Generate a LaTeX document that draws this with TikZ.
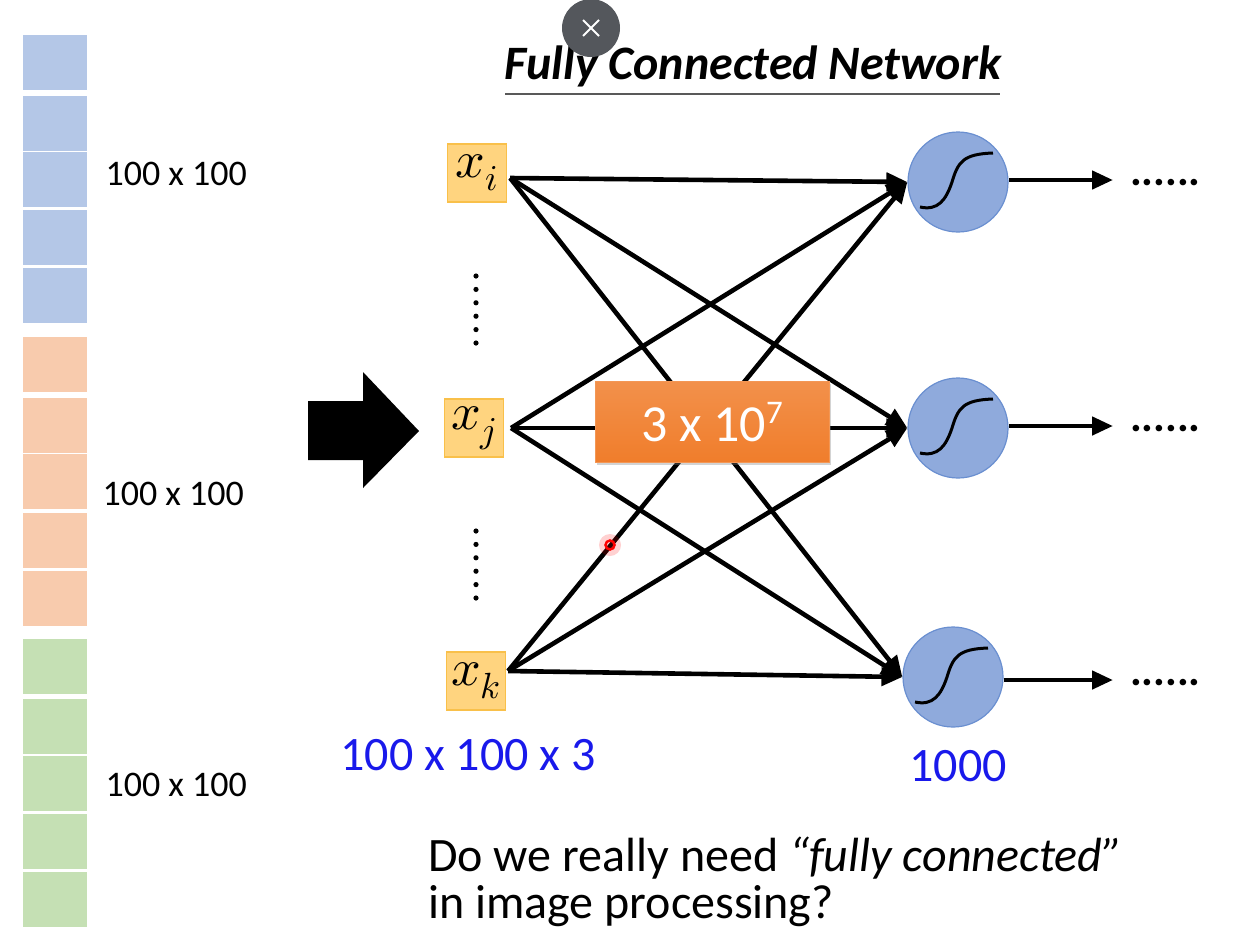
\documentclass[tikz,border=0pt]{standalone}
\usepackage{fontspec}
\usepackage{unicode-math}
\setmainfont{Carlito}
\setmathfont{Latin Modern Math}
\usetikzlibrary{positioning,arrows.meta,calc,shadows}

\definecolor{pixblue}{HTML}{B4C7E7}
\definecolor{pixorange}{HTML}{F8CBAD}
\definecolor{pixgreen}{HTML}{C5E0B4}
\definecolor{infill}{HTML}{FFD47F}
\definecolor{inedge}{HTML}{F9C04A}
\definecolor{nfill}{HTML}{8FAADC}
\definecolor{nedge}{HTML}{6A8FD0}
\definecolor{cntorange}{HTML}{F07D2B}
\definecolor{numblue}{RGB}{25,25,235}
\definecolor{btngray}{HTML}{54575C}

\begin{document}
\begin{tikzpicture}[x=1pt, y=-1pt,
  inbox/.style={draw=inedge, fill=infill, line width=1.2pt, minimum width=59pt, minimum height=58pt, inner sep=0pt, font=\fontsize{52}{52}\selectfont},
  neuron/.style={circle, draw=nedge, fill=nfill, line width=1.2pt, minimum size=100pt, inner sep=0pt},
  conn/.style={-{Triangle[length=21pt,width=18pt]}, line width=4.6pt},
  sizelbl/.style={font=\fontsize{36}{36}\selectfont, anchor=west},
  numlbl/.style={text=numblue, font=\fontsize{48}{48}\selectfont},
  outdots/.style={font=\fontsize{44}{44}\selectfont\bfseries, anchor=base west, inner sep=0pt}
]
  \useasboundingbox (0,0) rectangle (1258,946);

  % input image as stacked patches
  \foreach \top/\col in {35/pixblue, 96/pixblue, 152/pixblue, 210/pixblue, 268/pixblue,
                         337/pixorange, 398/pixorange, 454/pixorange, 513/pixorange, 571/pixorange,
                         639/pixgreen, 699/pixgreen, 756/pixgreen, 814/pixgreen, 872/pixgreen}
    \fill[\col] (23,\top) rectangle (87,\top+55);
  \node[sizelbl] (sb) at (102,174) {100 x 100};
  \node[sizelbl] (so) at (99,494) {100 x 100};
  \node[sizelbl] (sg) at (102,785) {100 x 100};

  % big arrow
  \fill (308,401) -- (363,401) -- (363,372) -- (419,431) -- (363,488) -- (363,460) -- (308,460) -- cycle;

  % title
  \node[font=\fontsize{48}{48}\selectfont\bfseries\itshape] (title) at (753,66) {Fully Connected Network};
  \draw[black!65, line width=2pt] (505,94) -- (1000,94);

  % inputs
  \node[inbox] (xi) at (477,173) {$x_i$};
  \node[inbox] (xj) at (474,428) {$x_j$};
  \node[inbox] (xk) at (476,681) {$x_k$};
  \foreach \k in {0,...,5} {
    \fill (476,276+13.4*\k) circle (2.6);
    \fill (476,531+13.4*\k) circle (2.6);
  }

  % neurons
  \node[neuron] (n1) at (958,182) {};
  \node[neuron] (n2) at (958,428) {};
  \node[neuron] (n3) at (953,677) {};
  \foreach \n in {n1,n2,n3}
    \draw[line width=3pt] ($(\n)+(-38,25)$) .. controls ($(\n)+(-20,29)$) and ($(\n)+(-12,18)$) .. ($(\n)+(-6,0)$)
      .. controls ($(\n)+(0,-20)$) and ($(\n)+(5,-28)$) .. ($(\n)+(35,-29)$);

  % connections
  \coordinate (si) at ($(xi.east)+(3,5)$);
  \coordinate (sj) at ($(xj.east)+(7,0)$);
  \coordinate (sk) at ($(xk.east)+(2,-10)$);
  \foreach \s in {si,sj,sk}
    \foreach \n in {n1,n2,n3}
      \draw[conn] (\s) -- (\n.west);

  % outputs
  \foreach \n/\yy in {n1/180,n2/426,n3/680} {
    \coordinate (o\n) at (1113,\yy);
    \draw[conn] (\n.east |- o\n) -- (o\n);
    \node[outdots] (d\n) at (1130,\yy+5) {......};
  }

  % parameter count
  \node[top color=cntorange!85!white, bottom color=cntorange, draw=cntorange!80!white, minimum width=234pt, minimum height=81pt,
        drop shadow={opacity=0.35, shadow xshift=2pt, shadow yshift=-2pt},
        text=white, font=\fontsize{52}{52}\selectfont] (cnt) at (712,422) {3 x 10\raisebox{18pt}{\fontsize{33}{33}\selectfont 7}};

  \node[numlbl] (nin) at (468,755) {100 x 100 x 3};
  \node[numlbl] (nout) at (958,766) {1000};

  % question
  \node[anchor=base west, align=left, inner sep=0pt, font=\fontsize{48}{47}\selectfont] (q) at (428,918)
    {Do we really need \textit{“fully connected”}\\in image processing?};

  % pointer and close button
  \fill[red, opacity=0.18] (610,545) circle (11);
  \draw[red, line width=2.5pt] (610,545) circle (4.5);
  \node[circle, fill=btngray, minimum size=58pt, inner sep=0pt] (btn) at (591,28) {};
  \draw[white, line width=1.8pt] ($(btn)+(-8,-8)$) -- ($(btn)+(8,8)$) ($(btn)+(-8,8)$) -- ($(btn)+(8,-8)$);
\end{tikzpicture}
\end{document}
